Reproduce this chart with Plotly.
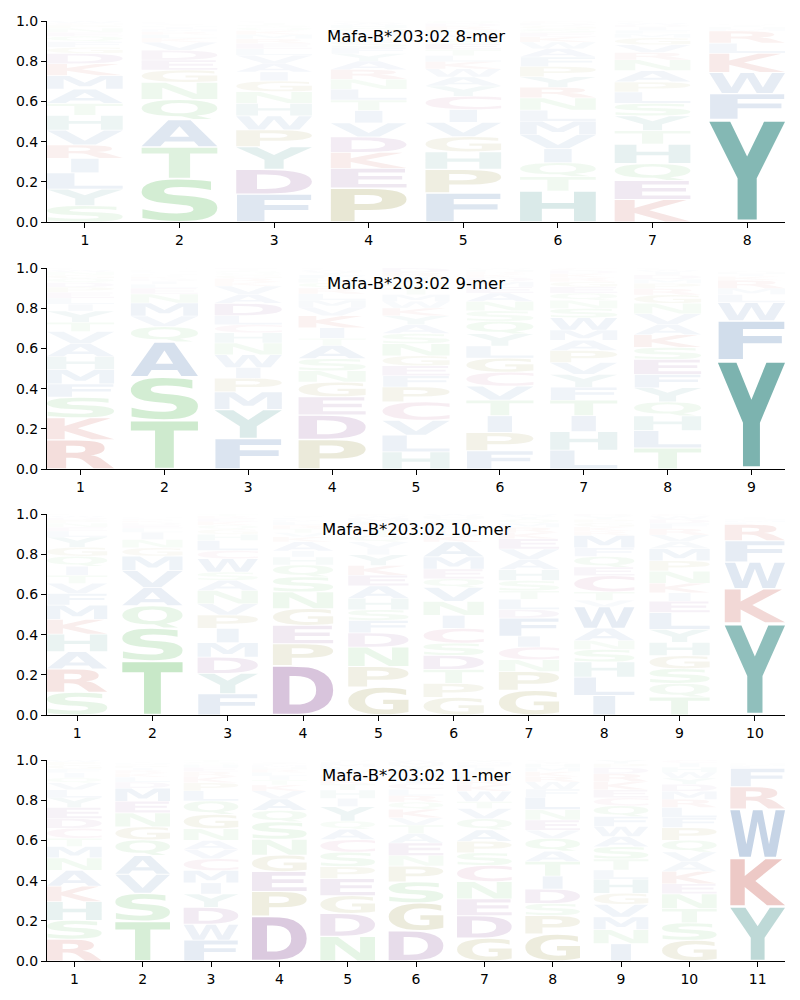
import struct, glob, os
import plotly.graph_objects as go

# ---------------- data (letters listed bottom -> top, with probabilities) ----------------
titles = ["Mafa-B*203:02 8-mer", "Mafa-B*203:02 9-mer", "Mafa-B*203:02 10-mer", "Mafa-B*203:02 11-mer"]

mer8_order = ["SYLIRVHTAMKDGFQENPCW", "STAQNGEDVKLRMIHYFPWC", "FDYPWHNGIAVLERMKQSTC",
              "PEKDVITLNRAYFSGMQHWC", "FPHGVICYAWKLTESMNRDQ", "HTQIVMLNRYPFAWKESGDC",
              "KEQHTYSLPANRVGMFIDWC", "YFWKLRMHIQAVCS"]
mer8_probs = [
    [.08, .08, .08, .07, .066, .072, .072, .058, .07, .066, .058, .05, .03, .028, .025, .02, .02, .015, .01, .01],
    [.217, .157, .136, .10, .086, .061, .05, .048, .04, .02, .018, .015, .012, .01, .008, .008, .005, .005, .003, .002],
    [.13, .116, .106, .078, .066, .058, .055, .05, .042, .04, .038, .03, .025, .022, .02, .018, .015, .012, .01, .008],
    [.16, .093, .075, .073, .066, .058, .05, .05, .048, .045, .04, .035, .03, .028, .025, .02, .018, .015, .01, .008],
    [.143, .116, .086, .075, .07, .063, .065, .05, .045, .04, .035, .03, .03, .028, .025, .022, .02, .018, .015, .012],
    [.146, .068, .066, .066, .066, .064, .052, .058, .05, .05, .048, .045, .04, .03, .025, .02, .018, .015, .012, .01],
    [.11, .093, .083, .095, .066, .073, .061, .055, .05, .055, .053, .036, .038, .033, .02, .018, .015, .012, .01, .008],
    [.51, .128, .104, .096, .05, .06, .01, .01, .008, .006, .005, .005, .003, .003],
]

mer9_order = ["RKSFMHAVTYILEPDQGNWC", "TSAQVMNELIDKRGCFHPYW", "FYMPIWNHCLDAVKRGQSTE",
              "PDEGNSATIKVMLRQHFYWC", "HLVCPFEGNSAYKWMTQIRD", "FPITVCGLYQSNAEMDKRHW",
              "LHITFYVPAMWSNQEGRKDC", "TLHQYFESKAVNGRPMDIWC", "YFWLMRKIHVACQ"]
mer9_probs = [
    [.142, .107, .1, .065, .07, .063, .063, .058, .045, .055, .033, .03, .028, .025, .022, .02, .018, .015, .01, .008],
    [.247, .22, .178, .078, .053, .067, .045, .03, .02, .015, .012, .01, .008, .007, .005, .005, .005, .005, .005, .005],
    [.15, .143, .087, .067, .053, .063, .058, .05, .04, .045, .06, .045, .04, .02, .018, .015, .012, .01, .008, .006],
    [.142, .117, .088, .07, .055, .058, .063, .035, .05, .058, .04, .035, .03, .028, .025, .02, .018, .015, .01, .008],
    [.077, .075, .067, .083, .067, .05, .045, .045, .055, .045, .04, .04, .035, .03, .03, .03, .025, .025, .02, .02],
    [.087, .088, .08, .075, .067, .067, .067, .058, .058, .06, .05, .045, .04, .03, .025, .02, .015, .012, .01, .008],
    [.092, .09, .078, .075, .063, .063, .058, .058, .05, .05, .06, .045, .04, .035, .03, .025, .02, .02, .015, .012],
    [.1, .083, .07, .067, .067, .063, .072, .057, .06, .05, .05, .05, .04, .03, .025, .02, .02, .015, .01, .008],
    [.54, .195, .09, .04, .03, .04, .02, .01, .01, .008, .005, .005, .003],
]

mer10_order = ["SRAHKMFVTIQGYLENPDWC", "TSQAVMGNILEDKRFHPYWC", "FYDMIPVNASWCLHGQKERT",
               "DPEGNSQHIAKVTRLMFYWC", "GPNDFSHAEKYIVQTRLMWC", "GPTDSCINVQEMAKLFRYHW",
               "GPNCIFDLTSHAVEKRMQYW", "ILHSNAWVTCEQFMRKGPYD", "TQSGHYLEIKNPMAVRFDWC",
               "YKWFRLMHIQVAC"]
mer10_probs = [
    [.113, .116, .086, .088, .073, .071, .058, .05, .04, .045, .05, .045, .05, .03, .02, .02, .015, .012, .01, .008],
    [.262, .16, .108, .088, .083, .07, .04, .04, .035, .02, .015, .012, .01, .008, .005, .005, .004, .004, .003, .003],
    [.105, .1, .08, .071, .07, .066, .055, .066, .05, .04, .066, .04, .05, .03, .025, .02, .018, .015, .012, .01],
    [.245, .108, .091, .083, .083, .075, .058, .04, .03, .045, .025, .02, .02, .018, .015, .012, .01, .008, .005, .005],
    [.13, .096, .091, .066, .058, .05, .053, .058, .05, .045, .05, .03, .03, .03, .025, .02, .02, .015, .01, .01],
    [.083, .066, .066, .066, .058, .07, .061, .066, .066, .041, .045, .058, .07, .03, .025, .02, .02, .015, .012, .01],
    [.12, .091, .058, .061, .053, .088, .041, .05, .041, .05, .053, .05, .05, .05, .03, .025, .02, .02, .015, .01],
    [.091, .086, .071, .058, .041, .058, .1, .03, .04, .075, .04, .05, .04, .058, .02, .02, .02, .015, .015, .01],
    [.086, .066, .07, .063, .063, .063, .08, .055, .04, .046, .058, .05, .058, .033, .033, .03, .025, .02, .015, .01],
    [.45, .169, .13, .105, .08, .01, .01, .008, .006, .005, .005, .004, .003],
]

mer11_order = ["RSHKANMTCDEYLVQIFGPW", "TSVAQGNEMDLKRIPFHYWC", "FWDYIMCVANGQLPKREHST",
               "DPEGNSQAVKTILRHMFYWC", "NDGEPSCAQYIHTKRVLMFW", "DGSPNEATVKQRLCIHFYMW",
               "GDENCSPAQVTWKRHLIFMY", "GPSDITAQVENLFWRKMHYC", "INMVGHLTSAWFQCEKRDPY",
               "GSTNEKAVQPFLRMDYWHIC", "YKWRFLMHIQAVC"]
mer11_probs = [
    [.11, .095, .095, .078, .08, .063, .058, .041, .05, .05, .055, .05, .04, .035, .025, .025, .02, .02, .015, .01],
    [.2, .14, .095, .095, .078, .066, .07, .058, .066, .03, .025, .02, .015, .012, .01, .008, .006, .006, .005, .004],
    [.103, .078, .083, .066, .055, .061, .058, .045, .045, .058, .07, .066, .05, .04, .03, .025, .02, .015, .012, .01],
    [.227, .124, .1, .083, .08, .088, .058, .058, .04, .03, .025, .02, .018, .015, .012, .01, .008, .008, .005, .005],
    [.12, .111, .086, .083, .058, .07, .061, .05, .04, .07, .04, .04, .03, .025, .02, .02, .018, .015, .01, .008],
    [.144, .133, .1, .075, .05, .06, .045, .04, .035, .04, .035, .03, .03, .03, .025, .02, .02, .02, .015, .01],
    [.11, .108, .081, .083, .078, .061, .055, .055, .053, .05, .033, .05, .03, .025, .02, .02, .018, .015, .012, .01],
    [.131, .09, .058, .07, .063, .071, .05, .061, .04, .05, .05, .06, .04, .035, .025, .025, .02, .018, .01, .008],
    [.086, .07, .063, .063, .055, .07, .046, .055, .061, .05, .05, .05, .053, .04, .04, .04, .04, .03, .02, .018],
    [.103, .086, .071, .073, .05, .061, .048, .048, .058, .063, .05, .05, .04, .04, .035, .03, .03, .025, .02, .015],
    [.268, .237, .24, .11, .09, .01, .008, .006, .005, .004, .003, .003, .002],
]

panels = [(titles[0], mer8_order, mer8_probs), (titles[1], mer9_order, mer9_probs),
          (titles[2], mer10_order, mer10_probs), (titles[3], mer11_order, mer11_probs)]

# ---------------- styles ----------------
groups = {
    (13, 115, 108): "HY",
    (20, 80, 154): "AVLIMFW",
    (180, 30, 16): "KR",
    (96, 18, 112): "DE",
    (53, 170, 53): "STNQ",
    (120, 112, 0): "GP",
    (170, 50, 110): "C",
}
color_of = {}
for rgb, letters in groups.items():
    for ch in letters:
        color_of[ch] = rgb

LETTER_W = 0.8
VPAD = 0.05

# ---------------- minimal TrueType outline reader ----------------
def find_font():
    cands = ["/usr/share/fonts/truetype/dejavu/DejaVuSans-Bold.ttf"]
    for pat in ["/usr/share/fonts/**/DejaVuSans-Bold.ttf", "/usr/**/DejaVuSans-Bold.ttf",
                "/usr/share/fonts/**/LiberationSans-Bold.ttf"]:
        cands += glob.glob(pat, recursive=True)
    for c in cands:
        if os.path.exists(c):
            return c
    return None


def load_glyphs(path, chars):
    data = open(path, 'rb').read()
    ntab = struct.unpack('>H', data[4:6])[0]
    tables = {}
    for i in range(ntab):
        tag, cs, off, ln = struct.unpack('>4sIII', data[12 + 16 * i:28 + 16 * i])
        tables[tag.decode('latin1')] = off
    head = tables['head']
    loc_fmt = struct.unpack('>h', data[head + 50:head + 52])[0]
    cmap = tables['cmap']
    nsub = struct.unpack('>H', data[cmap + 2:cmap + 4])[0]
    sub = None
    for i in range(nsub):
        pid, eid, off = struct.unpack('>HHI', data[cmap + 4 + 8 * i:cmap + 12 + 8 * i])
        fmt = struct.unpack('>H', data[cmap + off:cmap + off + 2])[0]
        if fmt == 4 and pid in (0, 3):
            sub = cmap + off
            break
    segx2 = struct.unpack('>H', data[sub + 6:sub + 8])[0]
    seg = segx2 // 2
    ends = struct.unpack('>%dH' % seg, data[sub + 14:sub + 14 + segx2])
    so = sub + 16 + segx2
    starts = struct.unpack('>%dH' % seg, data[so:so + segx2])
    do = so + segx2
    deltas = struct.unpack('>%dh' % seg, data[do:do + segx2])
    ro = do + segx2
    ros = struct.unpack('>%dH' % seg, data[ro:ro + segx2])

    def gid(ch):
        code = ord(ch)
        for i in range(seg):
            if starts[i] <= code <= ends[i]:
                if ros[i] == 0:
                    return (code + deltas[i]) & 0xFFFF
                addr = ro + 2 * i + ros[i] + 2 * (code - starts[i])
                g = struct.unpack('>H', data[addr:addr + 2])[0]
                return (g + deltas[i]) & 0xFFFF if g else 0
        return 0

    loca = tables['loca']
    glyf = tables['glyf']

    def goff(g):
        if loc_fmt == 0:
            return struct.unpack('>H', data[loca + 2 * g:loca + 2 * g + 2])[0] * 2
        return struct.unpack('>I', data[loca + 4 * g:loca + 4 * g + 4])[0]

    out = {}
    for ch in chars:
        off = glyf + goff(gid(ch))
        nc, xmin, ymin, xmax, ymax = struct.unpack('>hhhhh', data[off:off + 10])
        if nc <= 0:
            continue
        p = off + 10
        endpts = struct.unpack('>%dH' % nc, data[p:p + 2 * nc]); p += 2 * nc
        ilen = struct.unpack('>H', data[p:p + 2])[0]; p += 2 + ilen
        npts = endpts[-1] + 1
        flags = []
        while len(flags) < npts:
            f = data[p]; p += 1
            flags.append(f)
            if f & 8:
                r = data[p]; p += 1
                flags.extend([f] * r)
        flags = flags[:npts]
        xs, v = [], 0
        for f in flags:
            if f & 2:
                d = data[p]; p += 1
                v += d if f & 16 else -d
            elif not (f & 16):
                v += struct.unpack('>h', data[p:p + 2])[0]; p += 2
            xs.append(v)
        ys, v = [], 0
        for f in flags:
            if f & 4:
                d = data[p]; p += 1
                v += d if f & 32 else -d
            elif not (f & 32):
                v += struct.unpack('>h', data[p:p + 2])[0]; p += 2
            ys.append(v)
        contours, s = [], 0
        for e in endpts:
            contours.append([(xs[i], ys[i], flags[i] & 1) for i in range(s, e + 1)])
            s = e + 1
        out[ch] = ((xmin, ymin, xmax, ymax), contours)
    return out


def contour_cmds(pts):
    start = next((i for i, q in enumerate(pts) if q[2]), None)
    if start is None:
        x0 = (pts[0][0] + pts[1][0]) / 2.0
        y0 = (pts[0][1] + pts[1][1]) / 2.0
        seq = pts[1:] + pts[:1]
        first = (x0, y0)
    else:
        seq = pts[start + 1:] + pts[:start]
        first = (pts[start][0], pts[start][1])
    cmds = [('M', first)]
    prev = None
    for (x, y, on) in seq + [(first[0], first[1], 1)]:
        if on:
            if prev is None:
                cmds.append(('L', (x, y)))
            else:
                cmds.append(('Q', prev, (x, y)))
                prev = None
        else:
            if prev is None:
                prev = (x, y)
            else:
                mid = ((prev[0] + x) / 2.0, (prev[1] + y) / 2.0)
                cmds.append(('Q', prev, mid))
                prev = (x, y)
    cmds.append(('Z',))
    return cmds


font_path = find_font()
GLYPHS = {}
if font_path:
    try:
        GLYPHS = load_glyphs(font_path, "ACDEFGHIKLMNPQRSTVWY")
    except Exception:
        GLYPHS = {}
GLYPH_CMDS = {ch: (bb, [contour_cmds(c) for c in cs]) for ch, (bb, cs) in GLYPHS.items()}
E_W = (GLYPHS["E"][0][2] - GLYPHS["E"][0][0]) if "E" in GLYPHS else 1.0


def glyph_path(ch, xc, y0, h):
    (xmin, ymin, xmax, ymax), conts = GLYPH_CMDS[ch]
    gw, gh = xmax - xmin, ymax - ymin
    sx = LETTER_W / max(gw, E_W)
    sy = h * (1 - VPAD) / gh
    xl = xc - gw * sx / 2.0
    yb = y0 + h * VPAD / 2.0

    def tx(px, py):
        return "%.4f,%.5f" % (xl + (px - xmin) * sx, yb + (py - ymin) * sy)

    parts = []
    for cmds in conts:
        for c in cmds:
            if c[0] == 'M':
                parts.append("M" + tx(*c[1]))
            elif c[0] == 'L':
                parts.append("L" + tx(*c[1]))
            elif c[0] == 'Q':
                parts.append("Q" + tx(*c[1]) + " " + tx(*c[2]))
            else:
                parts.append("Z")
    return " ".join(parts)


# ---------------- figure ----------------
# the page body adds an 8px margin, so the figure is 792x992 and placed accordingly
fig = go.Figure()
OFF = 8
W, H = 800 - OFF, 1000 - OFF
ml, mr, mt, mb = 47 - OFF, 800 - 785, 21 - OFF, 1000 - 961
tops_px = [21 - OFF, 268 - OFF, 514 - OFF, 760 - OFF]
ph = 201
plot_h = H - mt - mb

shapes = []
annotations = []
layout = {}
tick_font = dict(family="DejaVu Sans", size=14, color="black")
for k, (title, order, probs) in enumerate(panels):
    L = len(order)
    xa = "xaxis" if k == 0 else "xaxis%d" % (k + 1)
    ya = "yaxis" if k == 0 else "yaxis%d" % (k + 1)
    xr = "x" if k == 0 else "x%d" % (k + 1)
    yr = "y" if k == 0 else "y%d" % (k + 1)
    top = tops_px[k]
    d1 = 1 - (top - mt) / plot_h
    d0 = 1 - (top + ph - mt) / plot_h
    d0 = max(0.0, d0)
    layout[xa] = dict(domain=[0, 1], range=[0.6, L + 0.4], anchor=yr, automargin=False,
                      tickmode="array", tickvals=list(range(1, L + 1)),
                      ticktext=[str(i) for i in range(1, L + 1)],
                      showline=True, linecolor="black", linewidth=1, mirror=False,
                      ticks="outside", ticklen=5, tickwidth=1, tickcolor="black",
                      showgrid=False, zeroline=False, tickfont=tick_font)
    layout[ya] = dict(domain=[d0, d1], range=[0, 1], anchor=xr, automargin=False,
                      tickmode="array", tickvals=[0, 0.2, 0.4, 0.6, 0.8, 1.0],
                      ticktext=["0.0", "0.2", "0.4", "0.6", "0.8", "1.0"],
                      showline=True, linecolor="black", linewidth=1,
                      ticks="outside", ticklen=5, tickwidth=1, tickcolor="black",
                      showgrid=False, zeroline=False, tickfont=tick_font)
    fig.add_trace(go.Scatter(x=[1], y=[0], mode="markers", marker=dict(opacity=0),
                             xaxis=xr, yaxis=yr, showlegend=False, hoverinfo="skip"))
    for pos in range(L):
        letters = order[pos]
        vals = probs[pos]
        total = float(sum(vals))
        ybase = 0.0
        for ch, v in zip(letters, vals):
            p = v / total
            r, g, b = color_of[ch]
            fill = "rgba(%d,%d,%d,%.3f)" % (r, g, b, min(1.0, p))
            if ch in GLYPH_CMDS:
                shapes.append(dict(type="path", xref=xr, yref=yr,
                                   path=glyph_path(ch, pos + 1, ybase, p),
                                   fillcolor=fill, line=dict(width=0)))
            else:
                shapes.append(dict(type="rect", xref=xr, yref=yr,
                                   x0=pos + 1 - LETTER_W / 2, x1=pos + 1 + LETTER_W / 2,
                                   y0=ybase, y1=ybase + p, fillcolor=fill, line=dict(width=0)))
            ybase += p
    annotations.append(dict(text=title, xref=xr + " domain", yref=yr + " domain",
                            x=0.5, y=1 - 15.5 / ph, xanchor="center", yanchor="middle",
                            showarrow=False,
                            font=dict(family="DejaVu Sans", size=16.5, color="black")))

fig.update_layout(width=W, height=H, margin=dict(l=ml, r=mr, t=mt, b=mb, autoexpand=False),
                  paper_bgcolor="white", plot_bgcolor="white",
                  shapes=shapes, annotations=annotations, showlegend=False, **layout)
fig.write_html("out.html")
